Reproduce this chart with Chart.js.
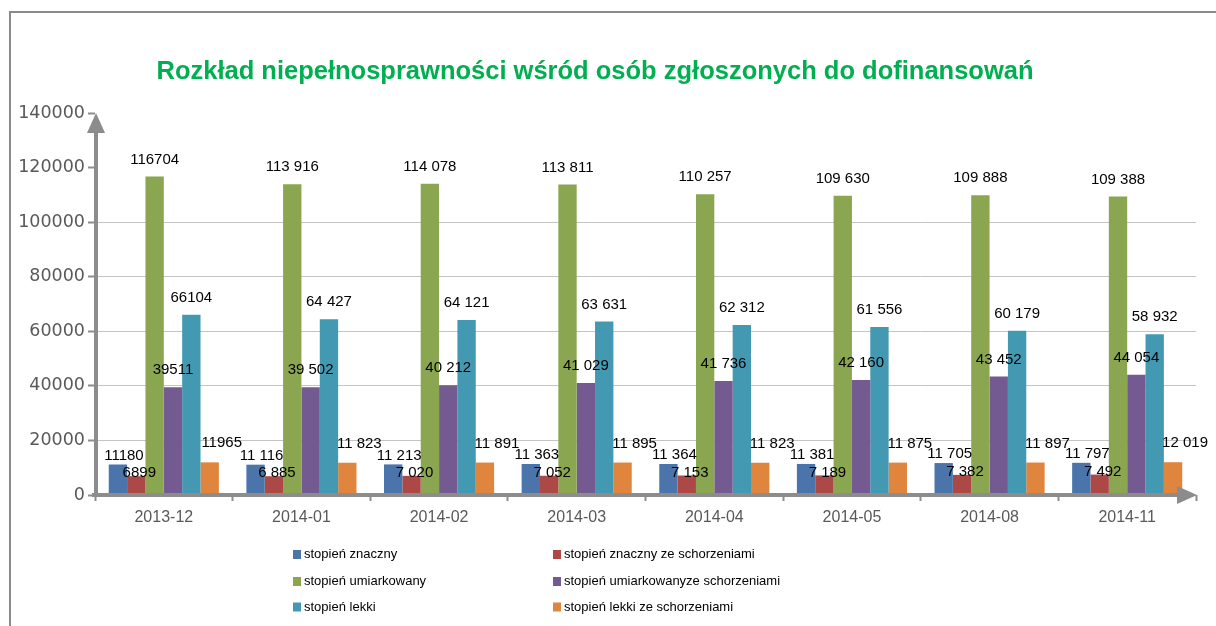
<!DOCTYPE html>
<html><head><meta charset="utf-8">
<script src="https://cdn.jsdelivr.net/npm/chart.js@4"></script>
<style>html,body{margin:0;padding:0;background:#fff}canvas{display:block}</style>
</head><body>
<canvas id="c" width="1216" height="626"></canvas>
<script>
// ---- data ----
const categories = ['2013-12','2014-01','2014-02','2014-03','2014-04','2014-05','2014-08','2014-11'];
const seriesNames = ['stopień znaczny','stopień znaczny ze schorzeniami','stopień umiarkowany','stopień umiarkowanyze schorzeniami','stopień lekki','stopień lekki ze schorzeniami'];
const znaczny = [11180,11116,11213,11363,11364,11381,11705,11797];
const znacznySchorzenia = [6899,6885,7020,7052,7153,7189,7382,7492];
const umiarkowany = [116704,113916,114078,113811,110257,109630,109888,109388];
const umiarkowanySchorzenia = [39511,39502,40212,41029,41736,42160,43452,44054];
const lekki = [66104,64427,64121,63631,62312,61556,60179,58932];
const lekkiSchorzenia = [11965,11823,11891,11895,11823,11875,11897,12019];
const yTicks = [0,20000,40000,60000,80000,100000,120000,140000];
const titleText = 'Rozkład niepełnosprawności wśród osób zgłoszonych do dofinansowań';

// ---- styles ----
const seriesValues = [znaczny,znacznySchorzenia,umiarkowany,umiarkowanySchorzenia,lekki,lekkiSchorzenia];
const colors = ['#4A74AA','#AC4845','#8BA651','#735A91','#4499B2','#E0853E'];
const labelOffsets = [[6,-9],[3,-3],[0,-17],[0,-17],[0,-17],[12,-19]];
const AXIS = '#8c8c8c';

function fmt(v, i){
  const s = String(v);
  return i === 0 ? s : s.replace(/\B(?=(\d{3})+(?!\d))/g,' ');
}

const framePlugin = {
  id:'frame',
  beforeDraw(chart){
    const c = chart.ctx;
    c.save();
    c.fillStyle='#fff'; c.fillRect(0,0,chart.width,chart.height);
    c.strokeStyle='#8a8a8a'; c.lineWidth=2;
    c.beginPath(); c.moveTo(10,chart.height); c.lineTo(10,12); c.lineTo(chart.width,12); c.stroke();
    c.restore();
  }
};

const axesPlugin = {
  id:'axesArrows',
  afterDatasetsDraw(chart){
    const c = chart.ctx, a = chart.chartArea;
    const y0 = chart.scales.y.getPixelForValue(0);
    const yTop = chart.scales.y.getPixelForValue(140000);
    const ax = a.left + 1;
    c.save();
    c.strokeStyle = AXIS; c.fillStyle = AXIS; c.lineWidth = 4;
    c.beginPath(); c.moveTo(ax, y0+2); c.lineTo(ax, yTop+18); c.stroke();
    c.beginPath(); c.moveTo(ax, yTop); c.lineTo(ax-9, yTop+20); c.lineTo(ax+9, yTop+20); c.closePath(); c.fill();
    c.beginPath(); c.moveTo(a.left-3, y0); c.lineTo(a.right-18, y0); c.stroke();
    c.beginPath(); c.moveTo(a.right+1, y0); c.lineTo(a.right-19, y0-9); c.lineTo(a.right-19, y0+9); c.closePath(); c.fill();
    c.restore();
  }
};

const labelsPlugin = {
  id:'valueLabels',
  afterDatasetsDraw(chart){
    const c = chart.ctx;
    c.save();
    c.font = '15px "Liberation Sans", Arial, sans-serif';
    c.fillStyle = '#000'; c.textAlign='center'; c.textBaseline='middle';
    chart.data.datasets.forEach((ds, di) => {
      const meta = chart.getDatasetMeta(di);
      const [dx, dy] = labelOffsets[di];
      meta.data.forEach((bar, i) => {
        c.fillText(fmt(ds.data[i], i), bar.x + dx, bar.y + dy);
      });
    });
    c.restore();
  }
};

const titleLegendPlugin = {
  id:'titleLegend',
  afterDraw(chart){
    const c = chart.ctx;
    c.save();
    c.font = 'bold 25.5px "Liberation Sans", Arial, sans-serif';
    c.fillStyle = '#00B050'; c.textAlign='center'; c.textBaseline='alphabetic';
    c.fillText(titleText, 595, 79);
    const cols = [293, 553], rows = [554.5, 581.5, 607];
    c.font = '13px "Liberation Sans", Arial, sans-serif';
    c.textAlign='left'; c.textBaseline='middle';
    chart.data.datasets.forEach((ds, i) => {
      const x = cols[i%2], y = rows[Math.floor(i/2)];
      c.fillStyle = ds.backgroundColor;
      c.fillRect(x, y-4.5, 8, 9);
      c.fillStyle = '#000';
      c.fillText(ds.label, x+11, y);
    });
    c.restore();
  }
};

new Chart(document.getElementById('c'), {
  type:'bar',
  data:{
    labels: categories,
    datasets: seriesNames.map((n,i)=>({
      label:n, data:seriesValues[i], backgroundColor:colors[i], borderWidth:0,
      categoryPercentage:0.8, barPercentage:1
    }))
  },
  options:{
    responsive:false, animation:false, devicePixelRatio:1,
    layout:{padding:{top:113,right:20,left:0,bottom:0}},
    plugins:{legend:{display:false}, title:{display:false}, tooltip:{enabled:false}},
    scales:{
      x:{
        grid:{display:true, drawOnChartArea:false, drawTicks:true, tickLength:6, tickColor:AXIS, tickWidth:2, offset:true},
        border:{display:false},
        ticks:{font:{family:'"Liberation Sans", Arial, sans-serif', size:16}, color:'#595959', padding:7, maxRotation:0, autoSkip:false},
        afterFit(s){ s.height = 131; }
      },
      y:{
        min:0, max:140000,
        afterBuildTicks(s){ s.ticks = yTicks.map(v=>({value:v})); },
        grid:{
          color:(ctx)=> (ctx.tick && (ctx.tick.value===0 || ctx.tick.value>=120000)) ? 'rgba(0,0,0,0)' : '#c4c4c4',
          lineWidth:1, drawTicks:true, tickLength:7, tickColor:AXIS, tickWidth:2
        },
        border:{display:false},
        ticks:{font:{family:'"DejaVu Sans", sans-serif', size:17.5}, color:'#595959', padding:3, callback:(v)=>String(v)},
        afterFit(s){ s.width = 95; }
      }
    }
  },
  plugins:[framePlugin, axesPlugin, labelsPlugin, titleLegendPlugin]
});
</script>
</body></html>
